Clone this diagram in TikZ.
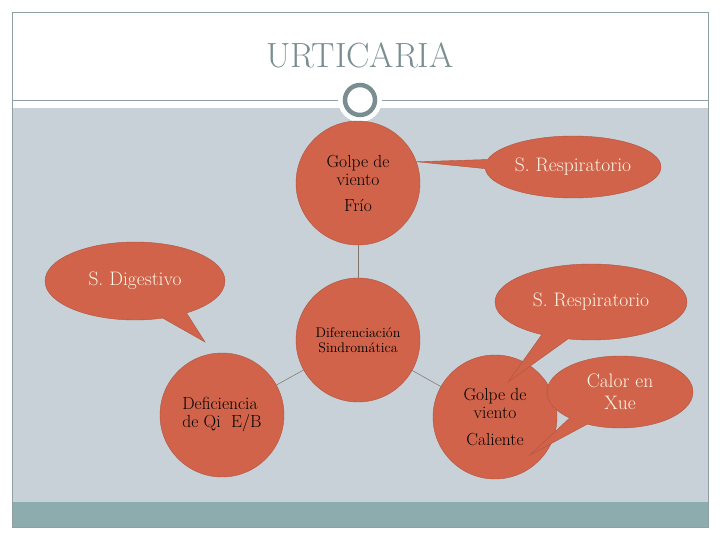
\documentclass[tikz,border=0pt]{standalone}
\usetikzlibrary{shapes.callouts}
\definecolor{brick}{RGB}{208,99,74}
\definecolor{brickline}{RGB}{176,84,64}
\definecolor{slate}{RGB}{199,209,215}
\definecolor{band}{RGB}{140,172,174}
\definecolor{framegray}{RGB}{143,160,164}
\definecolor{titlegray}{RGB}{122,142,145}
\definecolor{cream}{RGB}{255,246,232}
\definecolor{linkgray}{RGB}{125,115,105}

\begin{document}
\begin{tikzpicture}[x=1pt,y=-1pt,
  bubble/.style={circle,draw=brickline,fill=brick,minimum size=124pt,inner sep=0pt,
    align=center,text=black,font=\fontsize{17.5}{18}\selectfont},
  talk/.style={ellipse callout,draw=brickline,fill=brick,text=cream,inner sep=0pt,
    align=center,callout pointer arc=17,font=\fontsize{19.5}{22}\selectfont},
  link/.style={draw=linkgray,line width=0.5pt}]
  % slide background
  \useasboundingbox (0,0) rectangle (720,540);
  \fill[white] (0,0) rectangle (720,540);
  \fill[slate] (12,108) rectangle (708,502);
  \fill[band] (12,502) rectangle (708,527);
  \draw[framegray] (12,12) rectangle (708,527);
  \draw[framegray] (12,100) -- (708,100);
  \fill[white] (360,100) circle (22pt);
  \draw[titlegray,line width=4.5pt] (360,100) circle (15pt);
  \node[text=titlegray,font=\fontsize{35}{35}\selectfont] (title) at (360,55) {URTICARIA};
  % circles
  \node[bubble] (gfrio) at (358,183) {Golpe de\\viento\\[8pt]Frío};
  \node[bubble,font=\fontsize{14}{14.5}\selectfont] (dif) at (358,340) {Diferenciación\\Sindromática};
  \node[bubble,align=left] (defqi) at (222,415) {Deficiencia\\de Qi\ \ E/B};
  \node[bubble] (gcal) at (495,417) {Golpe de\\viento\\[9pt]Caliente};
  \draw[link] (gfrio) -- (dif);
  \draw[link] (dif) -- (defqi);
  \draw[link] (dif) -- (gcal);
  % callouts
  \coordinate (digtip) at (205,342);
  \coordinate (resptip) at (508,382);
  \coordinate (xuetip) at (530,455);
  \node[talk,minimum width=176pt,minimum height=62pt,callout absolute pointer={(gfrio.20)}] (resp1) at (573,167) {S. Respiratorio};
  \node[talk,minimum width=180pt,minimum height=78pt,callout absolute pointer={(digtip)}] (dig) at (135,281) {S. Digestivo};
  \node[talk,minimum width=192pt,minimum height=76pt,callout absolute pointer={(resptip)}] (resp2) at (591,302) {S. Respiratorio};
  \node[talk,minimum width=146pt,minimum height=72pt,callout absolute pointer={(xuetip)}] (xue) at (620,392) {Calor en\\Xue};
\end{tikzpicture}
\end{document}
